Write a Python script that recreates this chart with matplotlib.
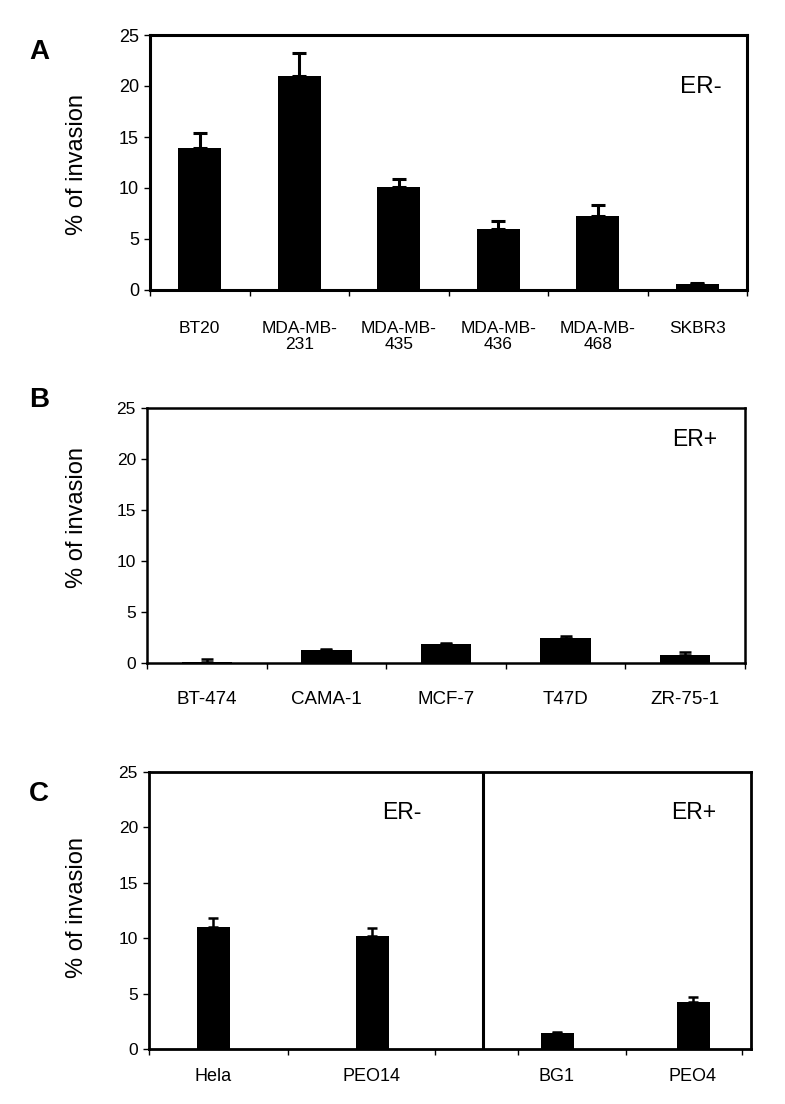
import numpy as np
import matplotlib
matplotlib.use('Agg')
import matplotlib.pyplot as plt

plt.rcParams['font.family'] = ['Liberation Sans', 'DejaVu Sans']

# Panel A - breast cancer cell lines, ER-
a_labels = ['BT20', 'MDA-MB-\n231', 'MDA-MB-\n435', 'MDA-MB-\n436', 'MDA-MB-\n468', 'SKBR3']
a_vals = [13.9, 21.0, 10.1, 6.0, 7.3, 0.55]
a_err = [1.5, 2.2, 0.8, 0.8, 1.0, 0.15]

# Panel B - breast cancer cell lines, ER+
b_labels = ['BT-474', 'CAMA-1', 'MCF-7', 'T47D', 'ZR-75-1']
b_vals = [0.05, 1.25, 1.85, 2.5, 0.75]
b_err = [0.3, 0.1, 0.15, 0.15, 0.3]

# Panel C - ovarian / cervical lines
c_labels = ['Hela', 'PEO14', 'BG1', 'PEO4']
c_vals = [11.0, 10.2, 1.4, 4.25]
c_err = [0.8, 0.7, 0.1, 0.45]

# layout of panel C (x axis in units of 100 px)
c_pos = [0.64, 2.23, 4.08, 5.44]
c_bounds = [0, 1.39, 2.86, 3.69, 4.77, 5.93]
c_divider = 3.34

W, H = 785, 1104
fig = plt.figure(figsize=(W / 100, H / 100), dpi=100)


def axes_px(left, top, right, bottom):
    return fig.add_axes([left / W, 1 - bottom / H, (right - left) / W, (bottom - top) / H])


def style(ax, spine_w, ytick_size):
    for s in ax.spines.values():
        s.set_linewidth(spine_w)
    ax.set_ylim(0, 25)
    ax.set_yticks([0, 5, 10, 15, 20, 25])
    ax.tick_params(axis='y', direction='out', length=4, width=1, pad=4, labelsize=ytick_size)
    ax.tick_params(axis='x', which='major', length=0)
    ax.tick_params(axis='x', which='minor', direction='out', length=4, width=1)


def bars(ax, x, vals, err, width, lw, cap):
    ax.bar(x, vals, width=width, color='black', edgecolor='black', linewidth=0)
    ax.errorbar(x, vals, yerr=[np.zeros(len(err)), err], fmt='none', ecolor='black',
                elinewidth=lw, capsize=cap, capthick=lw)


# ---- A ----
axA = axes_px(150, 35, 747, 290)
xa = np.arange(len(a_vals))
bars(axA, xa, a_vals, a_err, 0.43, 2.2, 4.7)
axA.set_xlim(-0.5, len(a_vals) - 0.5)
style(axA, 2.2, 13)
axA.set_xticks(xa)
axA.set_xticklabels(a_labels, fontsize=12.5, linespacing=1.15)
axA.set_xticks(np.arange(len(a_vals) + 1) - 0.5, minor=True)
axA.tick_params(axis='x', which='major', pad=22)
axA.text(0.888, 0.795, 'ER-', transform=axA.transAxes, fontsize=17.5, va='center', ha='left')

# ---- B ----
axB = axes_px(147, 408, 745, 663)
xb = np.arange(len(b_vals))
bars(axB, xb, b_vals, b_err, 0.42, 1.8, 4)
axB.set_xlim(-0.5, len(b_vals) - 0.5)
style(axB, 1.8, 12.5)
axB.set_xticks(xb)
axB.set_xticklabels(b_labels, fontsize=13.5)
axB.set_xticks(np.arange(len(b_vals) + 1) - 0.5, minor=True)
axB.tick_params(axis='x', which='major', pad=20)
axB.text(0.878, 0.875, 'ER+', transform=axB.transAxes, fontsize=16.5, va='center', ha='left')

# ---- C ----
axC = axes_px(149, 772, 751, 1049)
bars(axC, c_pos, c_vals, c_err, 0.33, 1.8, 3.8)
axC.set_xlim(0, 6.02)
style(axC, 2.0, 12.5)
axC.set_xticks(c_pos)
axC.set_xticklabels(c_labels, fontsize=13)
axC.set_xticks(c_bounds, minor=True)
axC.tick_params(axis='x', which='major', pad=14)
axC.axvline(c_divider, color='black', linewidth=2.2)
axC.text(0.388, 0.853, 'ER-', transform=axC.transAxes, fontsize=16.5, va='center', ha='left')
axC.text(0.868, 0.853, 'ER+', transform=axC.transAxes, fontsize=16.5, va='center', ha='left')

# y labels and panel letters
for y in [165, 517, 907]:
    fig.text(77 / W, 1 - y / H, '% of invasion', rotation=90, fontsize=17, ha='center', va='center')
for letter, y in [('A', 52), ('B', 400), ('C', 794)]:
    fig.text(39 / W, 1 - y / H, letter, fontsize=20, fontweight='bold', ha='center', va='center')

fig.savefig('out.png', dpi=100, facecolor='white')
